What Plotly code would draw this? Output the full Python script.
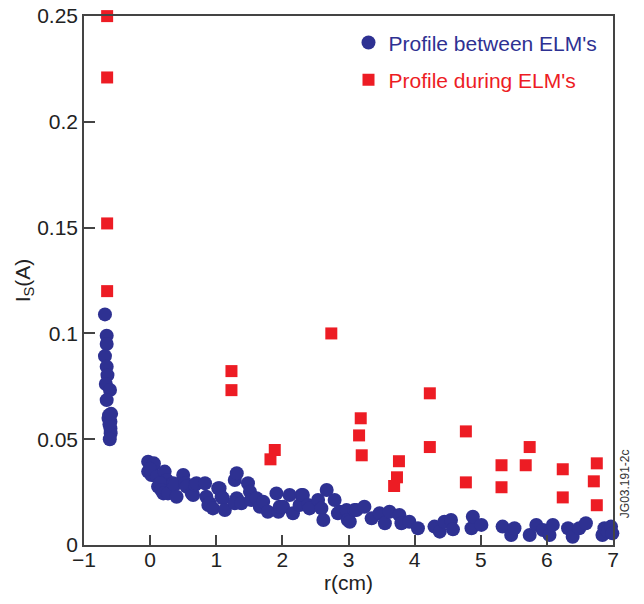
import plotly.graph_objects as go

# ---- data ----
between_r = [
    -0.683, -0.657, -0.657, -0.683, -0.657, -0.645, -0.670, -0.607, -0.657, -0.620,
    -0.630, -0.600, -0.600, -0.597, -0.615, -0.590, -0.610,
    -0.03, 0.05, -0.03, 0.02, 0.057, 0.0, 0.10, 0.22, 0.25, 0.12, 0.15, 0.17, 0.20,
    0.27, 0.35, 0.37, 0.40, 0.50, 0.53, 0.55, 0.63, 0.65, 0.68, 0.70, 0.83, 0.85,
    0.88, 0.90, 0.95, 1.03, 1.05, 1.08, 1.10, 1.13, 1.28, 1.31, 1.31, 1.28, 1.38,
    1.48, 1.51, 1.53, 1.61, 1.66, 1.71, 1.78, 1.91, 1.94, 1.96, 2.01, 2.11, 2.16,
    2.26, 2.29, 2.31, 2.39, 2.41, 2.54, 2.59, 2.62, 2.67, 2.79, 2.84, 2.87, 2.97,
    2.99, 3.02, 3.09, 3.12, 3.24, 3.35, 3.47, 3.55, 3.62, 3.77, 3.80, 3.92, 4.05,
    4.30, 4.38, 4.45, 4.55, 4.58, 4.86, 4.88, 5.01, 5.33, 5.46, 5.51, 5.74, 5.84,
    5.94, 6.04, 6.09, 6.32, 6.39, 6.49, 6.59, 6.84, 6.87, 6.92, 6.97, 6.99,
]
between_i = [
    0.109, 0.0989, 0.0950, 0.0893, 0.0843, 0.0803, 0.0761, 0.0733, 0.0685, 0.0614,
    0.0600, 0.0583, 0.0551, 0.0528, 0.0570, 0.0620, 0.0500,
    0.0394, 0.0378, 0.0347, 0.0331, 0.0386, 0.0360, 0.0323, 0.0347, 0.0307, 0.0276,
    0.0292, 0.0260, 0.0244, 0.0244, 0.0292, 0.0284, 0.0228, 0.0331, 0.0292, 0.0276,
    0.0244, 0.0236, 0.0284, 0.0292, 0.0292, 0.0228, 0.0189, 0.0197, 0.0173, 0.0268,
    0.0268, 0.0228, 0.0221, 0.0165, 0.0307, 0.0339, 0.0221, 0.0197, 0.0197, 0.0292,
    0.0252, 0.0213, 0.0221, 0.0181, 0.0205, 0.0157, 0.0244, 0.0157, 0.0181, 0.0181,
    0.0236, 0.0150, 0.0189, 0.0236, 0.0236, 0.0189, 0.0173, 0.0213, 0.0173, 0.0118,
    0.0260, 0.0213, 0.0150, 0.0157, 0.0165, 0.0118, 0.0110, 0.0165, 0.0165, 0.0181,
    0.0126, 0.0150, 0.0103, 0.0157, 0.0142, 0.0103, 0.0110, 0.0079, 0.0087, 0.0063,
    0.0110, 0.0118, 0.0074, 0.0079, 0.0134, 0.0095, 0.0087, 0.0047, 0.0079, 0.0047,
    0.0095, 0.0071, 0.0047, 0.0095, 0.0079, 0.0039, 0.0079, 0.0103, 0.0047, 0.0079,
    0.0063, 0.0087, 0.0055,
]

during_r = [
    -0.65, -0.65, -0.65, -0.65, 1.23, 1.23, 1.885, 1.82, 2.74, 3.185, 3.16, 3.20,
    3.763, 3.733, 3.69, 4.23, 4.23, 4.775, 4.775, 5.314, 5.314, 5.68, 5.74, 6.24,
    6.24, 6.755, 6.71, 6.755,
]
during_i = [
    0.250, 0.221, 0.152, 0.120, 0.0822, 0.0732, 0.0449, 0.0405, 0.1000, 0.0599,
    0.0518, 0.0424, 0.0396, 0.0320, 0.0279, 0.0717, 0.0463, 0.0537, 0.0296, 0.0377,
    0.0273, 0.0377, 0.0463, 0.0358, 0.0225, 0.0386, 0.0301, 0.0188,
]

x_ticks = [-1, 0, 1, 2, 3, 4, 5, 6, 7]
y_ticks = [0, 0.05, 0.1, 0.15, 0.2, 0.25]
y_ticktext = ["0", "0.05", "0.1", "0.15", "0.2", "0.25"]

BLUE = "#2E3192"
RED = "#ED1C24"
AXIS = "#444444"
FONT = "Liberation Sans, Arial, Helvetica, sans-serif"

fig = go.Figure()
fig.add_trace(go.Scatter(
    x=between_r, y=between_i, mode="markers",
    name='<span style="color:%s">Profile between ELM\'s</span>' % BLUE,
    legendgroup="a",
    marker=dict(symbol="circle", size=14, color=BLUE, line=dict(width=0)),
    cliponaxis=False,
))
fig.add_trace(go.Scatter(
    x=during_r, y=during_i, mode="markers",
    name='<span style="color:%s">Profile during ELM\'s</span>' % RED,
    legendgroup="b",
    marker=dict(symbol="square", size=12, color=RED, line=dict(width=0)),
    cliponaxis=False,
))

# page body has an 8px margin: figure is 636x596 placed at (8, 8)
fig.update_layout(
    width=636, height=596,
    margin=dict(l=76, r=31, t=8, b=59, autoexpand=False),
    paper_bgcolor="white", plot_bgcolor="white",
    font=dict(family=FONT, size=21, color="#222222"),
    showlegend=True,
    legend=dict(
        x=0.50, y=0.988, xanchor="left", yanchor="top",
        bgcolor="rgba(0,0,0,0)", borderwidth=0,
        font=dict(family=FONT, size=21),
        tracegroupgap=7, itemsizing="trace",
    ),
    xaxis=dict(
        range=[-1, 7], tickmode="array", tickvals=x_ticks,
        ticks="inside", ticklen=10, tickwidth=1.5, tickcolor=AXIS,
        showline=True, linecolor=AXIS, linewidth=1.5, mirror=True,
        showgrid=False, zeroline=False, automargin=False,
        ticklabelstandoff=-5, ticklabeloverflow="allow",
        title=dict(text="r(cm)", standoff=1, font=dict(size=21)),
        tickfont=dict(size=21),
    ),
    yaxis=dict(
        range=[0, 0.25005], tickmode="array", tickvals=y_ticks, ticktext=y_ticktext,
        ticks="inside", ticklen=11, tickwidth=1.5, tickcolor=AXIS,
        showline=True, linecolor=AXIS, linewidth=1.5, mirror=True,
        showgrid=False, zeroline=False, automargin=False,
        ticklabeloverflow="allow",
        title=dict(text="I<sub>S</sub>(A)", standoff=1, font=dict(size=21)),
        tickfont=dict(size=21),
    ),
)

fig.add_annotation(
    text="JG03.191-2c", xref="paper", yref="paper",
    x=1.0, y=0.115, xanchor="left", yanchor="middle", xshift=3,
    textangle=-90, showarrow=False,
    font=dict(family=FONT, size=12, color="#333333"),
)

fig.write_html("out.html")
